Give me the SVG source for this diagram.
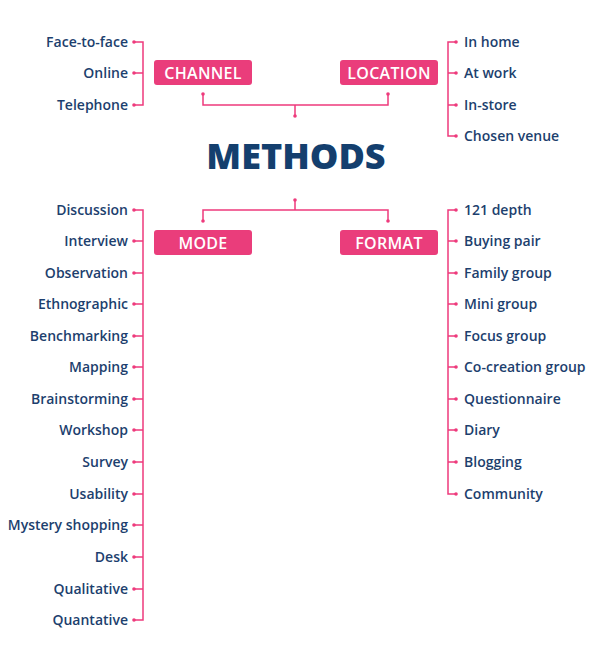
<svg xmlns="http://www.w3.org/2000/svg" width="592" height="657" viewBox="0 0 592 657">
<defs>
<style>
.bg{fill:#ffffff}
.box{fill:#ea3d7b}
.btxt{fill:#ffffff;font-family:"Open Sans","Liberation Sans",sans-serif;font-weight:600;font-size:16px;text-anchor:middle;letter-spacing:0.3px}
.item{fill:#1d3f6e;font-family:"Open Sans","Liberation Sans",sans-serif;font-weight:600;font-size:14px}
.l{text-anchor:end}
.r{text-anchor:start}
.title{fill:#143f6e;font-family:"Open Sans","Liberation Sans",sans-serif;font-weight:800;font-size:36px;text-anchor:middle}
.ln{fill:none;stroke:#ee3a7c;stroke-width:1.5}
.dot{fill:#ee3a7c}
</style>
</defs>
<rect class="bg" x="0" y="0" width="592" height="657"/>

<g id="title"><text class="title" x="296" y="169">METHODS</text></g>

<g id="channel"><rect class="box" x="154" y="60" width="98" height="25" rx="3"/><text class="btxt" x="203" y="78.5">CHANNEL</text></g>
<g id="location"><rect class="box" x="340" y="60" width="98" height="25" rx="3"/><text class="btxt" x="389" y="78.5">LOCATION</text></g>
<g id="mode"><rect class="box" x="154" y="230" width="98" height="25" rx="3"/><text class="btxt" x="203" y="248.5">MODE</text></g>
<g id="format"><rect class="box" x="340" y="230" width="98" height="25" rx="3"/><text class="btxt" x="389" y="248.5">FORMAT</text></g>

<g id="channel-items">
<text class="item l" x="128" y="47">Face-to-face</text>
<text class="item l" x="128" y="78">Online</text>
<text class="item l" x="128" y="110">Telephone</text>
</g>
<g id="location-items">
<text class="item r" x="464" y="47">In home</text>
<text class="item r" x="464" y="78">At work</text>
<text class="item r" x="464" y="110">In-store</text>
<text class="item r" x="464" y="141">Chosen venue</text>
</g>
<g id="mode-items">
<text class="item l" x="128" y="215">Discussion</text>
<text class="item l" x="128" y="246">Interview</text>
<text class="item l" x="128" y="278">Observation</text>
<text class="item l" x="128" y="309">Ethnographic</text>
<text class="item l" x="128" y="341">Benchmarking</text>
<text class="item l" x="128" y="372">Mapping</text>
<text class="item l" x="128" y="404">Brainstorming</text>
<text class="item l" x="128" y="435">Workshop</text>
<text class="item l" x="128" y="467">Survey</text>
<text class="item l" x="128" y="499">Usability</text>
<text class="item l" x="128" y="530">Mystery shopping</text>
<text class="item l" x="128" y="562">Desk</text>
<text class="item l" x="128" y="594">Qualitative</text>
<text class="item l" x="128" y="625">Quantative</text>
</g>
<g id="format-items">
<text class="item r" x="464" y="215">121 depth</text>
<text class="item r" x="464" y="246">Buying pair</text>
<text class="item r" x="464" y="278">Family group</text>
<text class="item r" x="464" y="309">Mini group</text>
<text class="item r" x="464" y="341">Focus group</text>
<text class="item r" x="464" y="372">Co-creation group</text>
<text class="item r" x="464" y="404">Questionnaire</text>
<text class="item r" x="464" y="435">Diary</text>
<text class="item r" x="464" y="467">Blogging</text>
<text class="item r" x="464" y="499">Community</text>
</g>

<g id="connectors">
<path class="ln" d="M203 94V105H388V94M295 105V116"/>
<circle class="dot" cx="203" cy="94" r="1.8"/><circle class="dot" cx="388" cy="94" r="1.8"/><circle class="dot" cx="295" cy="116" r="1.8"/>
<path class="ln" d="M295 200V210M203 221V210H388V221"/>
<circle class="dot" cx="295" cy="200" r="1.8"/><circle class="dot" cx="203" cy="221" r="1.8"/><circle class="dot" cx="388" cy="221" r="1.8"/>

<path class="ln" d="M134 42H143V105H134M134 73H143"/>
<circle class="dot" cx="134" cy="42" r="1.8"/><circle class="dot" cx="134" cy="73" r="1.8"/><circle class="dot" cx="134" cy="105" r="1.8"/>

<path class="ln" d="M456 42H448V136H456M448 73H456M448 105H456"/>
<circle class="dot" cx="456" cy="42" r="1.8"/><circle class="dot" cx="456" cy="73" r="1.8"/><circle class="dot" cx="456" cy="105" r="1.8"/><circle class="dot" cx="456" cy="136" r="1.8"/>

<path class="ln" d="M134 210H143V620H134M134 241H143M134 273H143M134 304H143M134 336H143M134 367H143M134 399H143M134 430H143M134 462H143M134 494H143M134 525H143M134 557H143M134 589H143"/>
<circle class="dot" cx="134" cy="210" r="1.8"/><circle class="dot" cx="134" cy="241" r="1.8"/><circle class="dot" cx="134" cy="273" r="1.8"/><circle class="dot" cx="134" cy="304" r="1.8"/><circle class="dot" cx="134" cy="336" r="1.8"/><circle class="dot" cx="134" cy="367" r="1.8"/><circle class="dot" cx="134" cy="399" r="1.8"/><circle class="dot" cx="134" cy="430" r="1.8"/><circle class="dot" cx="134" cy="462" r="1.8"/><circle class="dot" cx="134" cy="494" r="1.8"/><circle class="dot" cx="134" cy="525" r="1.8"/><circle class="dot" cx="134" cy="557" r="1.8"/><circle class="dot" cx="134" cy="589" r="1.8"/><circle class="dot" cx="134" cy="620" r="1.8"/>

<path class="ln" d="M456 210H448V494H456M448 241H456M448 273H456M448 304H456M448 336H456M448 367H456M448 399H456M448 430H456M448 462H456"/>
<circle class="dot" cx="456" cy="210" r="1.8"/><circle class="dot" cx="456" cy="241" r="1.8"/><circle class="dot" cx="456" cy="273" r="1.8"/><circle class="dot" cx="456" cy="304" r="1.8"/><circle class="dot" cx="456" cy="336" r="1.8"/><circle class="dot" cx="456" cy="367" r="1.8"/><circle class="dot" cx="456" cy="399" r="1.8"/><circle class="dot" cx="456" cy="430" r="1.8"/><circle class="dot" cx="456" cy="462" r="1.8"/><circle class="dot" cx="456" cy="494" r="1.8"/>
</g>
</svg>
